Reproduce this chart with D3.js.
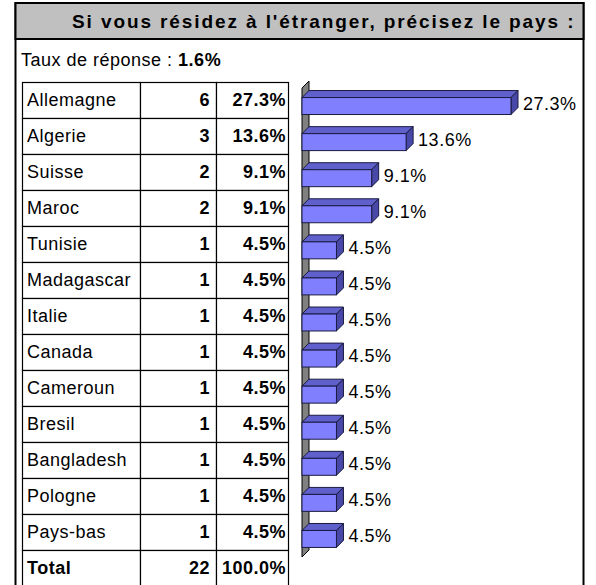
<!DOCTYPE html>
<html>
<head>
<meta charset="utf-8">
<script src="https://cdn.jsdelivr.net/npm/d3@7"></script>
<style>
  html, body { margin: 0; padding: 0; background: #fff; }
  svg { display: block; }
  text { font-family: "Liberation Sans", Arial, sans-serif; fill: #000; }
</style>
</head>
<body>
<svg id="chart" width="596" height="585"></svg>
<script>
const title = "Si vous résidez à l'étranger, précisez le pays :";
const rateLabel = "Taux de réponse : ";
const rateValue = "1.6%";
const countries = ["Allemagne","Algerie","Suisse","Maroc","Tunisie","Madagascar","Italie","Canada","Cameroun","Bresil","Bangladesh","Pologne","Pays-bas"];
const counts = [6,3,2,2,1,1,1,1,1,1,1,1,1];
const percents = [27.3,13.6,9.1,9.1,4.5,4.5,4.5,4.5,4.5,4.5,4.5,4.5,4.5];
const totalLabel = "Total";
const totalCount = 22;
const totalPercent = 100.0;

const svg = d3.select("#chart");
const fs = 18, ls = 0.5;

// Outer frame
svg.append("rect").attr("x", 15.5).attr("y", 3).attr("width", 568).attr("height", 600)
  .attr("fill", "#fff").attr("stroke", "#000").attr("stroke-width", 2);
// Header
svg.append("rect").attr("x", 15.5).attr("y", 3).attr("width", 568).attr("height", 36)
  .attr("fill", "#c0c0c0").attr("stroke", "#000").attr("stroke-width", 2);
svg.append("text").attr("x", 72).attr("y", 21).attr("dy", "0.36em")
  .attr("font-weight", "bold")
  .attr("font-size", 19).attr("letter-spacing", 1.9).text(title);

// Response rate
const rt = svg.append("text").attr("x", 21).attr("y", 60).attr("dy", "0.36em")
  .attr("font-size", fs).attr("letter-spacing", ls);
rt.append("tspan").text(rateLabel);
rt.append("tspan").attr("font-weight", "bold").text(rateValue);

// Table
const rows = countries.map((c, i) => ({name: c, count: counts[i], pct: percents[i], total: false}));
rows.push({name: totalLabel, count: totalCount, pct: totalPercent, total: true});
const rowScale = d3.scaleBand().domain(rows.map(r => r.name)).range([82, 82 + rows.length * 36]);
const colX = [22, 140, 216, 288];

const tg = svg.append("g");
rows.forEach(r => {
  const y0 = rowScale(r.name), h = rowScale.bandwidth();
  for (let k = 0; k < 3; k++) {
    tg.append("rect").attr("x", colX[k] + 0.5).attr("y", y0 + 0.5)
      .attr("width", colX[k + 1] - colX[k]).attr("height", h)
      .attr("fill", "#fff").attr("stroke", "#000").attr("stroke-width", 1.2);
  }
  const cy = y0 + h / 2;
  tg.append("text").attr("x", colX[0] + 5).attr("y", cy).attr("dy", "0.36em")
    .attr("font-size", fs).attr("letter-spacing", ls)
    .attr("font-weight", r.total ? "bold" : "normal").text(r.name);
  tg.append("text").attr("x", colX[2] - 6).attr("y", cy).attr("dy", "0.36em")
    .attr("text-anchor", "end").attr("font-size", fs).attr("letter-spacing", ls)
    .attr("font-weight", "bold").text(r.count);
  tg.append("text").attr("x", colX[3] - 2).attr("y", cy).attr("dy", "0.36em")
    .attr("text-anchor", "end").attr("font-size", fs).attr("letter-spacing", ls)
    .attr("font-weight", "bold").text(d3.format(".1f")(r.pct) + "%");
});

// Bars (3D)
const x = d3.scaleLinear().domain([0, 27.3]).range([302, 511]);
const y = d3.scaleBand().domain(countries).range([88, 557]).paddingInner(0.53).paddingOuter(0.265);
const dx = 7, dy = 7;
const g = svg.append("g");

// wall
const yTop = 88, yBot = 557, x0 = x(0);
g.append("path")
  .attr("d", `M${x0},${yTop} L${x0 + dx},${yTop - dy} L${x0 + dx},${yBot - dy} L${x0},${yBot} Z`)
  .attr("fill", "#808080").attr("stroke", "#000").attr("stroke-width", 1);

countries.forEach((c, i) => {
  const yb = y(c), bh = y.bandwidth(), xe = x(percents[i]);
  // top face
  g.append("path")
    .attr("d", `M${x0},${yb} L${x0 + dx},${yb - dy} L${xe + dx},${yb - dy} L${xe},${yb} Z`)
    .attr("fill", "#6060cc").attr("stroke", "#1a1a40").attr("stroke-width", 1).attr("stroke-linejoin", "round");
  // side face
  g.append("path")
    .attr("d", `M${xe},${yb} L${xe + dx},${yb - dy} L${xe + dx},${yb + bh - dy} L${xe},${yb + bh} Z`)
    .attr("fill", "#4848a8").attr("stroke", "#1a1a40").attr("stroke-width", 1).attr("stroke-linejoin", "round");
  // front face
  g.append("rect").attr("x", x0).attr("y", yb).attr("width", xe - x0).attr("height", bh)
    .attr("fill", "#8080ff").attr("stroke", "#1a1a40").attr("stroke-width", 1);
  // label
  g.append("text").attr("x", xe + 12).attr("y", yb + bh / 2 - 3).attr("dy", "0.36em")
    .attr("font-size", fs).attr("letter-spacing", ls)
    .text(d3.format(".1f")(percents[i]) + "%");
});
</script>
</body>
</html>
